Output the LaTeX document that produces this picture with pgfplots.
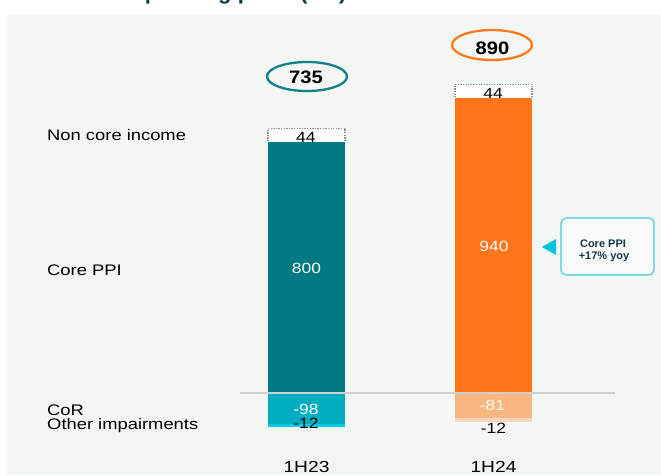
\documentclass[border=0pt]{standalone}
\usepackage{fontspec}
\setmainfont{Liberation Sans}
\usepackage{pgfplots}
\pgfplotsset{compat=1.18}
\definecolor{panelbg}{HTML}{F2F7F4}
\definecolor{tealbar}{HTML}{007A82}
\definecolor{orangebar}{HTML}{FF7519}
\definecolor{cyanbar}{HTML}{00ACBF}
\definecolor{cyanbright}{HTML}{00CDE6}
\definecolor{lightorange}{HTML}{F9B681}
\definecolor{peach}{HTML}{FBD6BA}
\definecolor{tealring}{HTML}{11808A}
\definecolor{orangering}{HTML}{FF7A1C}
\definecolor{dotgray}{HTML}{8C8C8C}
\definecolor{zeroline}{HTML}{CFCFCF}
\definecolor{calloutborder}{HTML}{3FCBDD}
\definecolor{callouttri}{HTML}{00C3DE}
\definecolor{darktext}{HTML}{173848}
\definecolor{titlecol}{HTML}{0E3A48}
\newcommand{\lbl}{\fontsize{14.8}{16}\selectfont}
\newcommand{\rowlbl}{\fontsize{15.3}{17}\selectfont}
\newcommand{\bignum}{\fontsize{18}{19}\selectfont\bfseries}
\begin{document}
\begin{tikzpicture}[x=1pt,y=1pt]
\pgfplotsset{base/.style={at={(0pt,0pt)}, anchor=south west, scale only axis,
  width=661pt, height=475pt, xmin=-1.639, xmax=1.8957, ymin=-261.6, ymax=1253.6,
  axis lines=none, xtick=\empty, ytick=\empty, ybar stacked, bar width=77pt, clip=false}}
% background
\fill[white] (0,0) rectangle (661,475);
\fill[panelbg] (7,0) rectangle (661,460);
% title (mostly cut off at the top)
\node[overlay, anchor=base west, inner sep=0, font=\fontsize{22}{24}\selectfont\bfseries, text=titlecol] at (75,475.5) {Core operating profit (€m)};
% negative stack
\begin{axis}[base]
\addplot[fill=cyanbar, draw=none] coordinates {(0,-98) (1,0)};
\addplot[fill=lightorange, draw=none] coordinates {(0,0) (1,-81)};
\addplot[fill=cyanbright, draw=none] coordinates {(0,-12) (1,0)};
\addplot[fill=peach, draw=none] coordinates {(0,0) (1,-12)};
\end{axis}
% positive stack
\begin{axis}[base]
\addplot[fill=tealbar, draw=none] coordinates {(0,800) (1,0)};
\addplot[fill=orangebar, draw=none] coordinates {(0,0) (1,940)};
\addplot[fill=white, draw=dotgray, line width=1.3pt, dash pattern=on 1.3pt off 1.3pt] coordinates {(0,44) (1,44)};
\end{axis}
% zero line
\draw[zeroline, line width=1.5pt] (240,82) -- (615,82);
% row labels
\begin{scope}[every node/.style={anchor=base west, inner sep=0, font=\rowlbl, xscale=1.2}]
\node at (47,334.3) {Non core income};
\node at (47,200) {Core PPI};
\node at (47,60) {CoR};
\node at (47,46) {Other impairments};
\end{scope}
% category labels
\begin{scope}[every node/.style={anchor=base, inner sep=0, font=\fontsize{16}{17}\selectfont, xscale=1.2}]
\node at (306.5,3) {1H23};
\node at (493.5,3) {1H24};
\end{scope}
% data labels
\begin{scope}[every node/.style={anchor=base, inner sep=0, font=\lbl, xscale=1.18}]
\node at (305.8,332.3) {44};
\node at (493,376) {44};
\node[text=white] at (306.5,202) {800};
\node[text=white] at (494,223.3) {940};
\node[text=white] at (306,60.7) {-98};
\node at (306,47) {-12};
\node[text=white!95!orange] at (492.5,65) {-81};
\node at (493.5,42) {-12};
\end{scope}
% totals in ellipses
\draw[tealring, line width=2.3pt] (307,398.5) ellipse (40 and 14.5);
\node[anchor=base, inner sep=0, font=\bignum, xscale=1.12] at (306,391.7) {735};
\draw[orangering, line width=2.3pt] (492,430) ellipse (40 and 15);
\node[anchor=base, inner sep=0, font=\bignum, xscale=1.12] at (492.5,420) {890};
% callout
\fill[callouttri] (542,228) -- (556,236) -- (556,220) -- cycle;
\draw[calloutborder, line width=1.1pt, fill=white!55!panelbg, rounded corners=5pt] (561,257) rectangle (654,200);
\node[anchor=base, inner sep=0, font=\fontsize{11}{12}\selectfont\bfseries, text=darktext] at (603,227.7) {Core PPI};
\node[anchor=base, inner sep=0, font=\fontsize{11}{12}\selectfont\bfseries, text=darktext] at (604,216) {+17\% yoy};
\end{tikzpicture}
\end{document}
